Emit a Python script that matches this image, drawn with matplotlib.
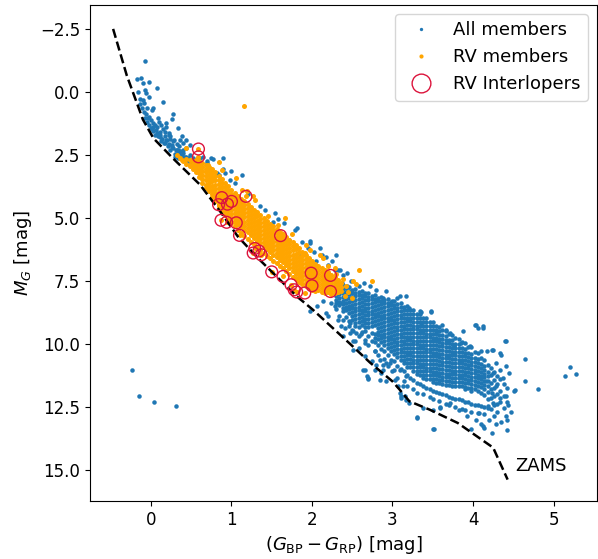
import matplotlib
matplotlib.use("Agg")
import matplotlib.pyplot as plt
from matplotlib.lines import Line2D

# ---------------- data ----------------
# ZAMS track
zams_color = [-0.47, -0.30, -0.10, 0.03, 0.27, 0.61, 0.86, 1.08, 1.35, 1.81, 2.01,
              2.47, 2.72, 3.00, 3.09, 3.21, 3.46, 3.81, 4.16, 4.25, 4.43]
zams_mag = [-2.5, -0.65, 1.1, 1.84, 2.63, 3.69, 4.75, 5.75, 6.67, 8.12, 8.65,
            10.0, 10.75, 11.5, 11.83, 12.29, 12.62, 13.15, 13.93, 14.13, 15.4]

# All members: upper main sequence (individual stars)
blue_upper = [(-0.07, -1.24), (-0.17, -0.50), (-0.12, -0.54), (-0.10, -0.37), (-0.02, -0.38),
              (0.07, -0.17), (-0.08, -0.08), (-0.16, -0.01), (-0.06, 0.05), (-0.13, 0.29),
              (-0.10, 0.34), (-0.09, 0.45), (-0.11, 0.65), (-0.05, 0.65), (0.03, 0.65),
              (0.01, 0.72), (0.15, 0.41), (-0.09, 0.78), (-0.06, 0.87), (-0.03, 0.98),
              (-0.08, 1.05), (0.00, 1.11), (-0.05, 1.18), (0.03, 1.22), (-0.02, 1.31),
              (0.09, 1.05), (0.10, 1.18), (0.28, 0.87), (0.26, 1.07), (0.03, 1.40),
              (0.01, 1.48), (0.06, 1.51), (0.15, 1.48), (0.17, 1.58), (0.22, 1.64),
              (0.05, 1.71), (0.09, 1.77), (0.11, 1.80), (0.14, 1.88), (0.19, 1.91),
              (0.24, 1.88), (0.29, 1.91), (0.36, 1.91), (0.38, 1.77), (0.34, 1.44),
              (0.13, 1.97), (0.17, 2.04), (0.22, 2.06), (0.26, 2.10), (0.32, 2.06),
              (0.35, 2.14), (0.40, 2.04), (0.28, 2.24), (0.31, 2.30), (0.24, 2.30),
              (0.40, 2.30), (0.44, 2.24), (0.35, 2.43), (0.38, 2.50), (0.42, 2.57),
              (0.34, 2.63), (0.48, 2.50), (0.61, 2.63), (0.65, 2.59), (0.69, 2.73),
              (0.77, 2.67), (0.90, 2.63), (0.48, 2.10), (0.44, 1.91), (0.05, 1.31),
              (0.08, 1.38), (0.19, 1.38), (0.19, 1.24), (0.23, 1.71), (0.27, 1.97),
              (0.11, 1.58), (0.03, 1.57), (0.11, 1.71), (0.20, 1.90), (0.24, 1.77),
              (0.32, 2.30), (0.26, 2.20), (0.40, 2.43), (0.46, 2.63), (0.42, 2.70),
              (0.55, 2.72), (0.44, 2.57), (0.30, 2.45), (0.21, 2.16), (0.16, 2.02),
              (0.07, 1.62), (0.00, 1.45), (0.13, 1.30), (-0.04, 1.05), (0.36, 2.36),
              (0.52, 2.62), (0.50, 2.80), (0.58, 2.85), (0.46, 2.75), (0.38, 2.62),
              (0.30, 2.58), (0.33, 2.30), (0.18, 1.75), (-0.14, 0.50), (-0.02, 0.20)]

# All members: stars scattered around the RV sequence and below it
blue_mid = [(0.75, 2.63), (1.00, 3.16), (1.13, 3.29), (0.98, 3.49), (0.82, 3.23), (1.35, 4.55),
            (1.54, 4.81), (1.52, 5.15), (1.79, 5.48), (1.72, 5.87), (1.97, 5.94), (2.10, 6.20),
            (2.12, 6.47), (2.30, 6.47), (1.95, 6.20), (1.85, 6.53), (2.20, 6.87), (2.28, 7.06),
            (2.35, 7.06), (2.39, 7.26), (2.37, 7.59), (2.43, 7.73), (2.14, 8.32), (2.24, 8.39),
            (2.37, 8.39), (0.69, 2.83), (0.84, 3.29), (0.92, 3.23), (0.75, 3.10), (1.81, 5.41),
            (1.98, 6.00), (2.05, 6.73), (2.32, 7.06), (2.43, 7.20), (2.49, 7.53), (2.65, 7.59),
            (2.80, 7.86), (2.92, 7.92), (3.05, 8.19), (2.28, 8.52), (2.20, 8.92), (2.32, 9.05),
            (2.47, 9.18), (2.36, 9.31), (2.53, 9.31), (2.65, 9.05), (2.06, 8.52), (2.18, 8.78),
            (1.97, 8.72), (2.41, 9.38), (2.47, 9.58), (2.51, 9.91), (2.59, 10.17), (2.66, 10.50),
            (2.74, 10.70), (2.80, 10.83), (2.92, 10.77), (2.99, 11.10), (3.07, 11.69),
            (3.11, 12.09), (3.17, 12.22), (2.68, 11.30), (2.92, 11.50), (2.55, 9.58),
            (2.39, 9.71), (2.78, 11.03), (2.86, 11.16), (2.70, 11.39), (2.84, 11.43),
            (2.78, 10.31), (2.88, 10.83), (2.61, 9.60), (2.51, 9.51), (2.63, 11.03),
            (3.09, 11.96), (3.11, 12.16), (3.15, 12.09), (3.13, 11.69), (3.21, 12.35),
            (3.38, 12.55), (3.59, 12.53), (3.50, 12.65), (2.53, 9.91), (2.66, 9.97),
            (2.51, 10.24), (2.66, 11.03), (2.70, 11.36), (2.88, 11.03), (2.97, 10.77),
            (2.84, 10.63), (3.03, 11.43), (3.09, 11.03), (3.17, 11.30),
            (1.20, 4.05), (1.42, 4.70), (1.65, 5.20), (1.88, 5.95), (2.02, 6.35), (2.25, 6.70),
            (1.05, 3.60), (0.90, 3.05), (1.58, 5.05), (2.18, 6.55)]

# All members: halo of the faint cloud and isolated outliers
blue_halo = [(3.09, 8.12), (3.34, 8.72), (3.48, 8.72), (3.36, 9.18), (3.54, 9.58), (3.71, 9.58),
             (3.77, 10.10), (3.85, 9.97), (3.00, 8.32), (3.17, 8.12), (2.88, 8.19), (2.72, 7.72),
             (2.59, 7.72), (3.21, 8.58), (3.61, 9.27), (3.67, 9.44), (3.87, 9.51), (3.48, 8.76),
             (3.36, 8.74), (4.02, 9.27), (4.06, 9.38), (4.12, 9.38), (4.04, 9.25), (4.12, 9.31),
             (4.41, 9.91), (4.40, 9.88), (4.23, 10.24), (4.33, 10.37), (4.10, 10.30), (3.96, 10.10),
             (4.25, 10.24), (4.35, 10.44), (4.17, 10.31), (4.29, 10.77), (4.41, 10.90),
             (4.33, 11.03), (4.25, 11.16), (4.45, 11.16), (4.16, 11.50), (4.29, 11.69),
             (4.52, 11.83), (4.64, 11.50), (4.33, 12.16), (4.41, 12.09), (4.25, 12.35),
             (4.41, 12.88), (4.08, 12.75), (4.20, 13.02), (4.12, 13.28), (3.98, 13.41),
             (3.50, 13.41), (3.30, 12.95), (3.83, 12.62), (3.71, 12.35), (3.59, 12.55),
             (3.92, 12.88), (4.04, 13.02), (4.18, 12.49), (4.43, 12.42), (4.23, 11.96),
             (4.37, 11.36), (4.65, 10.60), (4.81, 11.80), (4.51, 11.87), (4.47, 12.71),
             (4.42, 13.04), (4.42, 13.44), (4.35, 13.12), (4.28, 13.21), (4.23, 13.54),
             (4.14, 13.35), (4.10, 13.21), (3.51, 13.41), (3.30, 12.91), (5.14, 11.30),
             (5.20, 10.93), (5.28, 11.20), (-0.23, 11.03), (-0.15, 12.09), (0.04, 12.33),
             (0.31, 12.46)]

# All members: dense faint cloud, magnitudes per colour column
cloud_colors = [2.30, 2.34, 2.38, 2.42, 2.46, 2.50, 2.54, 2.58, 2.62, 2.66, 2.70, 2.74, 2.78,
                2.82, 2.86, 2.90, 2.94, 2.98, 3.02, 3.06, 3.10, 3.14, 3.18, 3.22, 3.26, 3.30,
                3.34, 3.38, 3.42, 3.46, 3.50, 3.54, 3.58, 3.62, 3.66, 3.70, 3.74, 3.78, 3.82,
                3.86, 3.90, 3.94, 3.98, 4.02, 4.06, 4.10, 4.14, 4.18, 4.22, 4.26, 4.30, 4.34,
                4.38, 4.42]
cloud_mags = [
    [7.65, 7.8, 7.95, 8.1, 8.25, 8.4, 8.62],
    [7.73, 7.88, 8.03, 8.18, 8.33, 8.48, 8.92],
    [7.69, 7.84, 7.99, 8.14, 8.29, 8.44, 8.59, 8.72, 9.05],
    [7.78, 7.93, 8.08, 8.23, 8.38, 8.53, 8.68, 8.95],
    [7.74, 7.89, 8.04, 8.19, 8.34, 8.49, 8.64, 8.79, 9.1, 9.3],
    [7.85, 8.0, 8.15, 8.3, 8.45, 8.6, 8.75, 8.9, 9.05, 9.45],
    [7.82, 7.97, 8.12, 8.27, 8.42, 8.57, 8.72, 8.87, 9.02, 9.2],
    [7.93, 8.08, 8.23, 8.38, 8.53, 8.68, 8.83, 8.98, 9.13, 9.35, 9.7],
    [7.9, 8.05, 8.2, 8.35, 8.5, 8.65, 8.8, 8.95, 9.1, 9.25, 9.55],
    [7.97, 8.12, 8.27, 8.42, 8.57, 8.72, 8.87, 9.02, 9.17, 9.32, 9.5, 9.85],
    [7.98, 8.13, 8.28, 8.43, 8.58, 8.73, 8.88, 9.03, 9.18, 9.33, 9.68, 10.05],
    [8.09, 8.24, 8.39, 8.54, 8.69, 8.84, 8.99, 9.14, 9.29, 9.56, 9.9],
    [8.06, 8.21, 8.36, 8.51, 8.66, 8.81, 8.96, 9.11, 9.26, 9.62, 9.76, 9.92, 10.3],
    [8.17, 8.32, 8.47, 8.62, 8.77, 8.92, 9.07, 9.22, 9.37, 9.52, 9.67, 9.82, 10.05, 10.45],
    [8.14, 8.29, 8.44, 8.59, 8.74, 8.89, 9.04, 9.19, 9.34, 9.49, 9.64, 9.79, 9.94, 10.2],
    [8.25, 8.4, 8.55, 8.7, 8.85, 9.0, 9.15, 9.3, 9.45, 9.6, 9.75, 9.9, 10.05, 10.3, 10.62],
    [8.22, 8.37, 8.52, 8.67, 8.82, 8.97, 9.12, 9.27, 9.42, 9.57, 9.72, 9.87, 10.02, 10.17, 10.45,
     10.9],
    [8.33, 8.48, 8.63, 8.78, 8.93, 9.08, 9.23, 9.38, 9.53, 9.68, 9.83, 9.98, 10.13, 10.28, 10.65],
    [8.3, 8.45, 8.6, 8.75, 8.9, 9.05, 9.2, 9.35, 9.5, 9.65, 9.8, 9.95, 10.1, 10.25, 10.4, 10.7,
     11.05],
    [8.42, 8.57, 8.72, 8.87, 9.02, 9.17, 9.32, 9.47, 9.62, 9.77, 9.92, 10.07, 10.22, 10.37, 10.52,
     10.9, 11.35],
    [8.4, 8.55, 8.7, 8.85, 9.0, 9.15, 9.3, 9.45, 9.6, 9.75, 9.9, 10.05, 10.2, 10.35, 10.5, 10.65,
     11.0],
    [8.53, 8.68, 8.83, 8.98, 9.13, 9.28, 9.43, 9.58, 9.73, 9.88, 10.03, 10.18, 10.33, 10.48, 10.63,
     10.78, 11.1, 11.5],
    [8.52, 8.67, 8.82, 8.97, 9.12, 9.27, 9.42, 9.57, 9.72, 9.87, 10.02, 10.17, 10.32, 10.47, 10.62,
     10.77, 10.92, 11.25, 11.7],
    [8.67, 8.82, 8.97, 9.12, 9.27, 9.42, 9.57, 9.72, 9.87, 10.02, 10.17, 10.32, 10.47, 10.62,
     10.77, 10.92, 11.35],
    [8.68, 8.83, 8.98, 9.13, 9.28, 9.43, 9.58, 9.73, 9.88, 10.03, 10.18, 10.33, 10.48, 10.63,
     10.78, 10.93, 11.08, 11.45, 11.8],
    [8.83, 8.98, 9.13, 9.28, 9.43, 9.58, 9.73, 9.88, 10.03, 10.18, 10.33, 10.48, 10.63, 10.78,
     10.93, 11.08, 11.2, 11.55, 11.95],
    [8.84, 8.99, 9.14, 9.29, 9.44, 9.59, 9.74, 9.89, 10.04, 10.19, 10.34, 10.49, 10.64, 10.79,
     10.94, 11.09, 11.24, 11.6],
    [8.99, 9.14, 9.29, 9.44, 9.59, 9.74, 9.89, 10.04, 10.19, 10.34, 10.49, 10.64, 10.79, 10.94,
     11.09, 11.24, 11.36, 11.7, 12.02],
    [9.0, 9.15, 9.3, 9.45, 9.6, 9.75, 9.9, 10.05, 10.2, 10.35, 10.5, 10.65, 10.8, 10.95, 11.1,
     11.25, 11.4, 11.75],
    [9.15, 9.3, 9.45, 9.6, 9.75, 9.9, 10.05, 10.2, 10.35, 10.5, 10.65, 10.8, 10.95, 11.1, 11.25,
     11.4, 11.8, 12.12],
    [9.16, 9.31, 9.46, 9.61, 9.76, 9.91, 10.06, 10.21, 10.36, 10.51, 10.66, 10.81, 10.96, 11.11,
     11.26, 11.41, 11.52, 11.88, 12.2],
    [9.31, 9.46, 9.61, 9.76, 9.91, 10.06, 10.21, 10.36, 10.51, 10.66, 10.81, 10.96, 11.11, 11.26,
     11.41, 11.55, 11.92],
    [9.32, 9.5, 9.65, 9.8, 9.95, 10.1, 10.25, 10.4, 10.55, 10.7, 10.85, 11.0, 11.15, 11.3, 11.45,
     11.58, 11.95, 12.28],
    [9.47, 9.66, 9.81, 9.96, 10.11, 10.26, 10.41, 10.56, 10.71, 10.86, 11.01, 11.16, 11.31, 11.46,
     11.6, 12.0],
    [9.48, 9.68, 9.84, 9.99, 10.14, 10.29, 10.44, 10.59, 10.74, 10.89, 11.04, 11.19, 11.34, 11.49,
     11.64, 12.05, 12.38],
    [9.63, 9.84, 9.99, 10.14, 10.29, 10.44, 10.59, 10.74, 10.89, 11.04, 11.19, 11.34, 11.49,
     11.66, 12.1, 12.45],
    [9.64, 9.86, 10.02, 10.17, 10.32, 10.47, 10.62, 10.77, 10.92, 11.07, 11.22, 11.37, 11.52,
     11.68, 12.15],
    [9.79, 10.02, 10.17, 10.32, 10.47, 10.62, 10.77, 10.92, 11.07, 11.22, 11.37, 11.52, 11.7,
     12.18, 12.5],
    [9.8, 10.02, 10.18, 10.33, 10.48, 10.63, 10.78, 10.93, 11.08, 11.23, 11.38, 11.53, 11.68,
     12.2],
    [9.95, 10.18, 10.33, 10.48, 10.63, 10.78, 10.93, 11.08, 11.23, 11.38, 11.53, 11.7, 12.25,
     12.6],
    [9.96, 10.2, 10.36, 10.51, 10.66, 10.81, 10.96, 11.11, 11.26, 11.41, 11.56, 11.71, 11.82,
     12.3, 12.65],
    [10.12, 10.38, 10.53, 10.68, 10.83, 10.98, 11.13, 11.28, 11.43, 11.58, 11.76, 12.32],
    [10.15, 10.4, 10.56, 10.71, 10.86, 11.01, 11.16, 11.31, 11.46, 11.61, 11.76, 11.88, 12.38,
     12.7],
    [10.33, 10.58, 10.73, 10.88, 11.03, 11.18, 11.33, 11.48, 11.63, 11.8, 12.42],
    [10.38, 10.62, 10.78, 10.93, 11.08, 11.23, 11.38, 11.53, 11.68, 11.9, 12.45, 12.75],
    [10.57, 10.82, 10.97, 11.12, 11.27, 11.42, 11.57, 11.72, 11.95, 12.48],
    [10.64, 10.88, 11.04, 11.19, 11.34, 11.49, 11.64, 11.8, 12.05, 12.5, 12.8],
    [10.86, 11.12, 11.3, 11.5, 11.7, 11.92, 12.2, 12.55],
    [10.95, 11.25, 11.55, 11.82, 12.15, 12.6],
    [11.12, 11.43, 11.78, 12.08, 12.42, 12.86],
    [11.28, 11.62, 12.02, 12.38, 12.7],
    [11.42, 11.88, 12.3],
    [11.6, 12.07, 12.55],
    [11.76, 12.32],
]

# RV members: the sequence, magnitudes per colour column
rv_colors = [0.36, 0.40, 0.44, 0.48, 0.52, 0.56, 0.60, 0.64, 0.68, 0.72, 0.76, 0.80, 0.84,
             0.88, 0.92, 0.96, 1.00, 1.04, 1.08, 1.12, 1.16, 1.20, 1.24, 1.28, 1.32, 1.36,
             1.40, 1.44, 1.48, 1.52, 1.56, 1.60, 1.64, 1.68, 1.72, 1.76, 1.80, 1.84, 1.88,
             1.92, 1.96, 2.00, 2.04, 2.08, 2.12, 2.16, 2.20, 2.24, 2.28, 2.32, 2.36]
rv_mags = [
    [2.62],
    [2.74],
    [2.68, 2.88],
    [2.72, 2.95],
    [2.78, 2.94, 3.07],
    [2.7, 2.86, 3.02, 3.18],
    [2.76, 2.9, 3.06, 3.22, 3.38],
    [2.82, 2.98, 3.14, 3.3, 3.46, 3.6],
    [2.9, 3.05, 3.2, 3.36, 3.52, 3.68, 3.8],
    [2.97, 3.13, 3.29, 3.45, 3.61, 3.77, 3.95],
    [3.08, 3.24, 3.4, 3.56, 3.72, 3.88, 4.04, 4.16],
    [3.2, 3.36, 3.52, 3.68, 3.84, 4.0, 4.16, 4.32],
    [3.33, 3.49, 3.65, 3.81, 3.97, 4.13, 4.29, 4.45, 4.55],
    [3.46, 3.62, 3.78, 3.94, 4.1, 4.26, 4.42, 4.58, 4.74],
    [3.6, 3.76, 3.92, 4.08, 4.24, 4.4, 4.56, 4.72, 4.9],
    [3.74, 3.9, 4.06, 4.22, 4.38, 4.54, 4.7, 4.86, 5.05],
    [3.88, 4.04, 4.2, 4.36, 4.52, 4.68, 4.84, 5.0, 5.2],
    [4.0, 4.16, 4.32, 4.48, 4.64, 4.8, 4.96, 5.12, 5.34],
    [4.12, 4.28, 4.44, 4.6, 4.76, 4.92, 5.08, 5.24, 5.48],
    [4.24, 4.4, 4.56, 4.72, 4.88, 5.04, 5.2, 5.36, 5.6],
    [4.35, 4.51, 4.67, 4.83, 4.99, 5.15, 5.31, 5.47, 5.72],
    [4.46, 4.62, 4.78, 4.94, 5.1, 5.26, 5.42, 5.58, 5.84],
    [4.57, 4.73, 4.89, 5.05, 5.21, 5.37, 5.53, 5.69, 5.95],
    [4.68, 4.84, 5.0, 5.16, 5.32, 5.48, 5.64, 5.8, 6.06],
    [4.79, 4.95, 5.11, 5.27, 5.43, 5.59, 5.75, 5.91, 6.17],
    [4.9, 5.06, 5.22, 5.38, 5.54, 5.7, 5.86, 6.02, 6.28],
    [5.01, 5.17, 5.33, 5.49, 5.65, 5.81, 5.97, 6.13, 6.39],
    [5.12, 5.28, 5.44, 5.6, 5.76, 5.92, 6.08, 6.24, 6.5],
    [5.23, 5.39, 5.55, 5.71, 5.87, 6.03, 6.19, 6.35, 6.6],
    [5.34, 5.5, 5.66, 5.82, 5.98, 6.14, 6.3, 6.46, 6.7],
    [5.45, 5.61, 5.77, 5.93, 6.09, 6.25, 6.41, 6.57, 6.8],
    [5.55, 5.71, 5.87, 6.03, 6.19, 6.35, 6.51, 6.67, 6.9],
    [5.65, 5.81, 5.97, 6.13, 6.29, 6.45, 6.61, 6.77, 7.0],
    [5.76, 5.92, 6.08, 6.24, 6.4, 6.56, 6.72, 6.88, 7.1],
    [5.87, 6.03, 6.19, 6.35, 6.51, 6.67, 6.83, 6.99, 7.22],
    [5.98, 6.14, 6.3, 6.46, 6.62, 6.78, 6.94, 7.1, 7.34],
    [6.1, 6.26, 6.42, 6.58, 6.74, 6.9, 7.06, 7.22, 7.45],
    [6.22, 6.38, 6.54, 6.7, 6.86, 7.02, 7.18, 7.34, 7.55],
    [6.35, 6.51, 6.67, 6.83, 6.99, 7.15, 7.31, 7.47, 7.64],
    [6.48, 6.64, 6.8, 6.96, 7.12, 7.28, 7.44, 7.6, 7.72],
    [6.6, 6.76, 6.92, 7.08, 7.24, 7.4, 7.56, 7.7, 7.8],
    [6.72, 6.88, 7.04, 7.2, 7.36, 7.52, 7.68, 7.86],
    [6.82, 6.98, 7.14, 7.3, 7.46, 7.62, 7.78, 7.9],
    [6.92, 7.08, 7.24, 7.4, 7.56, 7.72, 7.88],
    [7.0, 7.16, 7.32, 7.48, 7.64, 7.8, 7.96],
    [7.08, 7.24, 7.4, 7.56, 7.72, 7.88, 8.0],
    [7.16, 7.32, 7.48, 7.64, 7.8, 7.96],
    [7.26, 7.42, 7.58, 7.74, 7.9, 8.04],
    [7.36, 7.52, 7.68, 7.84, 8.0],
    [7.46, 7.62, 7.78, 7.94],
    [7.58, 7.74, 7.92],
]

# RV members: isolated stars off the sequence
rv_scatter = [(1.15, 0.58), (0.44, 2.24), (0.32, 2.50), (0.38, 2.70), (0.84, 2.77), (1.06, 3.43),
              (0.48, 2.90), (0.71, 2.90), (0.88, 3.10), (1.13, 3.89), (1.19, 3.95), (1.27, 4.15),
              (1.29, 4.29), (1.66, 5.01), (1.93, 6.07), (1.91, 6.40), (2.20, 6.93), (2.10, 6.47),
              (2.14, 6.60), (1.97, 6.27), (2.59, 7.06), (2.51, 7.53), (2.74, 7.53), (2.38, 7.45),
              (2.42, 7.70), (2.45, 7.95), (2.50, 8.20), (2.41, 8.10), (2.55, 7.65), (2.30, 7.25),
              (2.28, 7.00), (1.58, 5.30), (1.45, 4.95), (1.75, 5.65)]

# RV interlopers
interlopers = [(0.59, 2.27), (0.59, 2.58), (0.88, 4.20), (0.84, 4.48), (0.95, 4.46), (1.00, 4.35),
               (1.18, 4.15), (0.87, 5.10), (0.94, 5.18), (1.06, 5.20), (1.10, 5.70), (1.61, 5.71),
               (1.29, 6.22), (1.34, 6.32), (1.27, 6.40), (1.37, 6.47), (1.50, 7.15), (1.64, 7.33),
               (1.74, 7.66), (1.78, 7.86), (1.81, 7.95), (1.91, 7.99), (2.00, 7.70), (1.99, 7.20),
               (2.23, 7.29), (2.23, 7.93)]

x_ticks = [0, 1, 2, 3, 4, 5]
y_ticks = [-2.5, 0.0, 2.5, 5.0, 7.5, 10.0, 12.5, 15.0]


def expand(colors, mags):
    xs, ys = [], []
    for c, ms in zip(colors, mags):
        xs.extend([c] * len(ms))
        ys.extend(ms)
    return xs, ys


cx, cy = expand(cloud_colors, cloud_mags)
rx, ry = expand(rv_colors, rv_mags)

blue_pts = blue_upper + blue_mid + blue_halo
bx = [p[0] for p in blue_pts] + cx
by = [p[1] for p in blue_pts] + cy

orange_pts = rv_scatter + interlopers
ox = rx + [p[0] for p in orange_pts]
oy = ry + [p[1] for p in orange_pts]

ix = [p[0] for p in interlopers]
iy = [p[1] for p in interlopers]

# ---------------- figure ----------------
BLUE = '#1f77b4'
ORANGE = '#ffa500'
RED = '#dc143c'

fig = plt.figure(figsize=(5.98, 5.59), dpi=100)
ax = fig.add_axes([90 / 598, 1 - 501 / 559, 507 / 598, 496 / 559])

ax.scatter(bx, by, s=10.5, c=BLUE, linewidths=0, zorder=2)
ax.scatter(ox, oy, s=13, c=ORANGE, linewidths=0, zorder=3)
ax.plot(zams_color, zams_mag, 'k--', lw=1.8, zorder=4)
ax.scatter(ix, iy, s=72, facecolors='none', edgecolors=RED, linewidths=1.0, zorder=5)

ax.text(4.52, 14.85, 'ZAMS', fontsize=13, va='center', ha='left')

ax.set_xlim(-0.757, 5.54)
ax.set_ylim(16.25, -3.45)
ax.set_xticks(x_ticks)
ax.set_yticks(y_ticks)
ax.tick_params(labelsize=12)
ax.set_xlabel(r'$(G_{\rm BP}-G_{\rm RP})$ [mag]', fontsize=13)
ax.set_ylabel(r'$M_G$ [mag]', fontsize=13)

handles = [
    Line2D([], [], ls='', marker='o', color=BLUE, markersize=2.4, markeredgewidth=0),
    Line2D([], [], ls='', marker='o', color=ORANGE, markersize=3.0, markeredgewidth=0),
    Line2D([], [], ls='', marker='o', markerfacecolor='none', markeredgecolor=RED,
           markersize=13.5, markeredgewidth=1.0),
]
ax.legend(handles, ['All members', 'RV members', 'RV Interlopers'], loc='upper right',
          fontsize=13)

fig.savefig('out.png', dpi=100)
